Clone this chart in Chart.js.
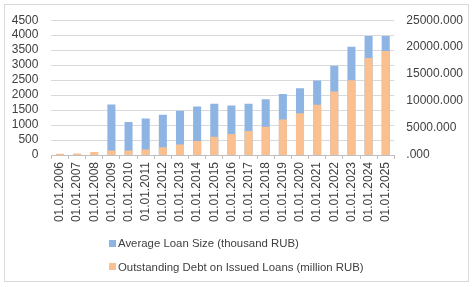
<!DOCTYPE html>
<html>
<head>
<meta charset="utf-8">
<script src="https://cdn.jsdelivr.net/npm/chart.js@4/dist/chart.umd.min.js"></script>
<style>
html,body{margin:0;padding:0;background:#fff;}
#wrap{position:relative;width:475px;height:287px;overflow:hidden;}
#frame{position:absolute;left:4px;top:4px;width:465px;height:278px;border:1px solid #D9D9D9;box-sizing:border-box;pointer-events:none;}
canvas{position:absolute;left:0;top:0;}
.leg{position:absolute;font-family:"Liberation Sans",Arial,sans-serif;font-size:11.4px;color:#404040;white-space:nowrap;line-height:14px;}
.sw{position:absolute;width:7px;height:7px;}
</style>
</head>
<body>
<div id="wrap">
<canvas id="c" width="475" height="287"></canvas>
<div id="frame"></div>
<div class="sw" style="left:109px;top:240px;background:#8EB4E3"></div>
<div class="leg" id="l1" style="left:118px;top:236px;"></div>
<div class="sw" style="left:109px;top:263px;background:#FAC090"></div>
<div class="leg" id="l2" style="left:118px;top:260px;"></div>
</div>
<script>
const categories = ["01.01.2006","01.01.2007","01.01.2008","01.01.2009","01.01.2010","01.01.2011","01.01.2012","01.01.2013","01.01.2014","01.01.2015","01.01.2016","01.01.2017","01.01.2018","01.01.2019","01.01.2020","01.01.2021","01.01.2022","01.01.2023","01.01.2024","01.01.2025"];
const avgLoanSize = [null,null,null,1690,1100,1220,1340,1480,1620,1715,1650,1715,1860,2040,2230,2490,2980,3610,3970,3970];
const outstandingDebt = [240,290,550,840,850,1020,1460,1930,2610,3400,3890,4430,5220,6570,7720,9310,11790,13870,18000,19270];
const seriesNames = ["Average Loan Size (thousand RUB)","Outstanding Debt on Issued Loans (million RUB)"];
const leftTicks = {min:0,max:4500,step:500};
const rightTicks = {min:0,max:25000,step:5000};

document.getElementById('l1').textContent = seriesNames[0];
document.getElementById('l2').textContent = seriesNames[1];

const FONT = {family:'"Liberation Sans", Arial, sans-serif', size:12};
const TXT = '#404040';

new Chart(document.getElementById('c'), {
  type:'bar',
  data:{
    labels:categories,
    datasets:[
      {label:seriesNames[0],data:avgLoanSize,backgroundColor:'#8EB4E3',yAxisID:'y',order:1,grouped:false,barPercentage:0.47,categoryPercentage:1},
      {label:seriesNames[1],data:outstandingDebt,backgroundColor:'#FAC090',yAxisID:'y1',order:0,grouped:false,barPercentage:0.47,categoryPercentage:1}
    ]
  },
  options:{
    responsive:false,
    animation:false,
    events:[],
    layout:{padding:{left:0,right:0,top:18,bottom:57}},
    plugins:{legend:{display:false},tooltip:{enabled:false}},
    scales:{
      x:{
        offset:true,
        grid:{display:true,drawOnChartArea:false,drawTicks:true,tickLength:4,color:'#BFBFBF',offset:true},
        border:{display:true,color:'#BFBFBF'},
        ticks:{font:FONT,color:TXT,minRotation:90,maxRotation:90,autoSkip:false,padding:3},
        afterFit:(s)=>{s.height=75;}
      },
      y:{
        position:'left',min:leftTicks.min,max:leftTicks.max,
        ticks:{stepSize:leftTicks.step,font:FONT,color:TXT,padding:13,autoSkip:false,
          callback:(v)=>String(v)},
        grid:{color:'#D9D9D9',drawTicks:false},
        border:{display:false},
        afterFit:(s)=>{s.width=51.4;}
      },
      y1:{
        position:'right',min:rightTicks.min,max:rightTicks.max,
        ticks:{stepSize:rightTicks.step,font:FONT,color:TXT,padding:12,autoSkip:false,
          callback:(v)=> v===0 ? '.000' : v.toFixed(3)},
        grid:{display:false,drawTicks:false},
        border:{display:false},
        afterFit:(s)=>{s.width=80.7;}
      }
    }
  }
});
</script>
</body>
</html>
